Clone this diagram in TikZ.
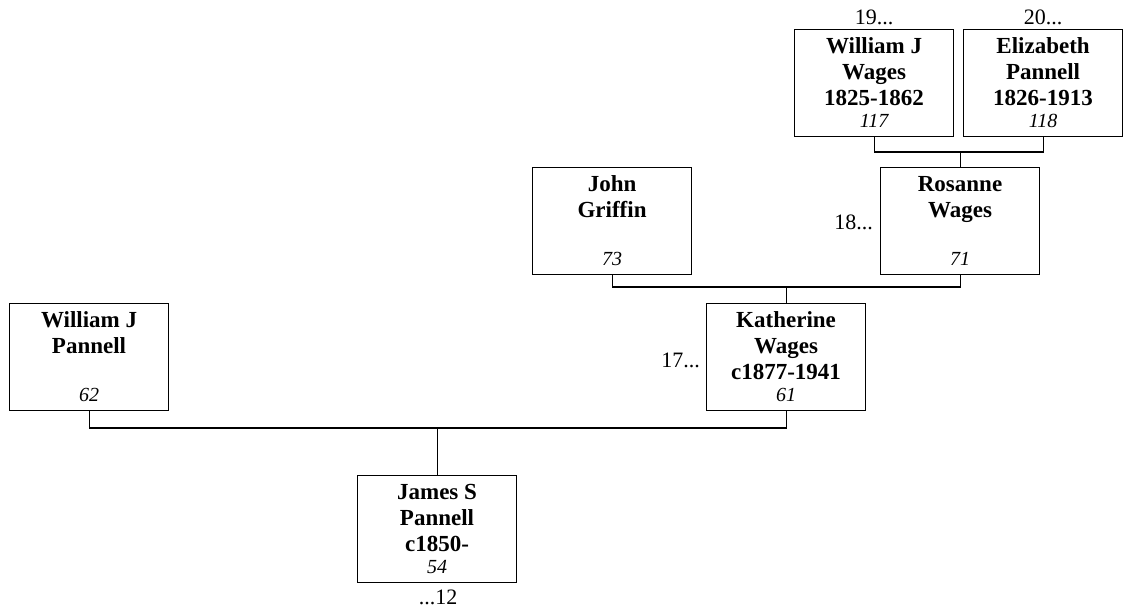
\documentclass[tikz,border=0pt]{standalone}
\usepackage{fontspec}
\setmainfont{Liberation Serif}
\usetikzlibrary{calc}
\newcommand\famcell[4]{\vbox to 107pt{\offinterlineskip\hsize=159pt
 \kern24pt\hbox to 159pt{\hss\smash{\fontsize{23}{26}\selectfont\bfseries #1}\hss}%
 \kern26pt\hbox to 159pt{\hss\smash{\fontsize{23}{26}\selectfont\bfseries #2}\hss}%
 \kern26pt\hbox to 159pt{\hss\smash{\fontsize{23}{26}\selectfont\bfseries #3}\hss}%
 \kern22pt\hbox to 159pt{\hss\smash{\fontsize{20}{22}\selectfont\itshape #4}\hss}%
 \vss}}
\tikzset{
  person/.style={draw, line width=1.1pt, inner sep=0pt, anchor=north west},
  lab/.style={font=\fontsize{22}{26}\selectfont, inner sep=0pt},
  link/.style={line width=1.1pt}
}
\begin{document}
\begin{tikzpicture}[x=1pt,y=-1pt]
\useasboundingbox (0,0) rectangle (1123,609);
% persons
\node[person] (wjw) at (794,29) {\famcell{William J}{Wages}{1825-1862}{117}};
\node[person] (ep)  at (963,29) {\famcell{Elizabeth}{Pannell}{1826-1913}{118}};
\node[person] (ros) at (880,167) {\famcell{Rosanne}{Wages}{}{71}};
\node[person] (jg)  at (532,167) {\famcell{John}{Griffin}{}{73}};
\node[person] (kat) at (706,303) {\famcell{Katherine}{Wages}{c1877-1941}{61}};
\node[person] (wjp) at (9,303)   {\famcell{William J}{Pannell}{}{62}};
\node[person] (jsp) at (357,475) {\famcell{James S}{Pannell}{c1850-}{54}};
% labels
\node[lab, anchor=base] (l19) at ($(wjw.north)+(0,-4)$) {19...};
\node[lab, anchor=base] (l20) at ($(ep.north)+(0,-4)$) {20...};
\node[lab, anchor=base east] (l18) at ($(ros.north west)+(-7,63)$) {18...};
\node[lab, anchor=base east] (l17) at ($(kat.north west)+(-6,64)$) {17...};
\node[lab, anchor=base] (l12) at ($(jsp.south)+(1,21)$) {...12};
% connectors
\path (ros.north) ++(0,-15) coordinate (j1);
\path (kat.north) ++(0,-16) coordinate (j2);
\path (jsp.north) ++(0,-47) coordinate (j3);
\draw[link] (wjw.south) |- (j1) -| (ep.south);
\draw[link] (j1) -- (ros.north);
\draw[link] (jg.south) |- (j2) -| (ros.south);
\draw[link] (j2) -- (kat.north);
\draw[link] (wjp.south) |- (j3) -| (kat.south);
\draw[link] (j3) -- (jsp.north);
\end{tikzpicture}
\end{document}
